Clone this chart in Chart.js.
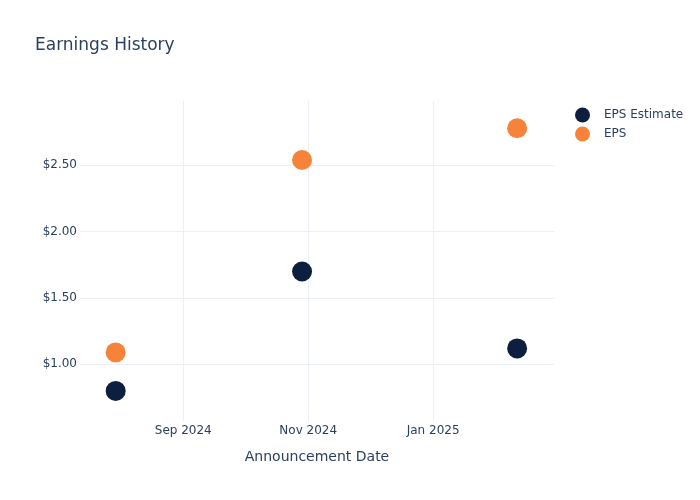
<!DOCTYPE html>
<html>
<head>
<meta charset="utf-8">
<script src="https://cdn.jsdelivr.net/npm/chart.js@4.4.1/dist/chart.umd.min.js"></script>
<style>body{margin:0;background:#fff}</style>
</head>
<body>
<canvas id="chart" width="700" height="500"></canvas>
<script>
// chart values
const announceDates = ["2024-07-30", "2024-10-29", "2025-02-11"];
const epsEstimate = [0.80, 1.70, 1.12];
const epsActual = [1.09, 2.54, 2.78];
const xTickDates = ["2024-09-01", "2024-11-01", "2025-01-01"];
const xTickLabels = ["Sep 2024", "Nov 2024", "Jan 2025"];
const yTickValues = [1.0, 1.5, 2.0, 2.5];
const xRange = ["2024-07-12T14:00:00Z", "2025-03-01T00:00:00Z"];
const yRange = [0.573, 2.985];

const textColor = "#2a3f5f";
const gridColor = "#ebf0f8";
const fontFamily = "'DejaVu Sans', Verdana, sans-serif";

const toTime = s => Date.parse(s.length === 10 ? s + "T00:00:00Z" : s);

// title + legend drawn on top, plotly style
const overlay = {
  id: "overlay",
  afterDraw(chart) {
    const ctx = chart.ctx;
    ctx.save();
    ctx.fillStyle = textColor;
    ctx.font = "17px " + fontFamily;
    ctx.textAlign = "left";
    ctx.textBaseline = "alphabetic";
    ctx.fillText("Earnings History", 35, 50);

    ctx.font = "12px " + fontFamily;
    ctx.textBaseline = "middle";
    chart.data.datasets.forEach((ds, i) => {
      const y = 115 + i * 19;
      ctx.beginPath();
      ctx.arc(582.5, y, 7.5, 0, Math.PI * 2);
      ctx.fillStyle = ds.backgroundColor;
      ctx.fill();
      ctx.fillStyle = textColor;
      ctx.fillText(ds.label, 604, y);
    });
    ctx.restore();
  }
};

new Chart(document.getElementById("chart"), {
  type: "scatter",
  data: {
    datasets: [
      {
        label: "EPS Estimate",
        data: announceDates.map((d, i) => ({ x: toTime(d), y: epsEstimate[i] })),
        backgroundColor: "#0d1f3f",
        borderWidth: 0,
        pointRadius: 10,
        pointHoverRadius: 10
      },
      {
        label: "EPS",
        data: announceDates.map((d, i) => ({ x: toTime(d), y: epsActual[i] })),
        backgroundColor: "#f7833a",
        borderWidth: 0,
        pointRadius: 10,
        pointHoverRadius: 10
      }
    ]
  },
  options: {
    responsive: false,
    animation: false,
    layout: { padding: { left: 0, top: 101, right: 146, bottom: 0 } },
    plugins: {
      legend: { display: false },
      title: { display: false },
      tooltip: { enabled: false }
    },
    scales: {
      x: {
        type: "linear",
        min: toTime(xRange[0]),
        max: toTime(xRange[1]),
        afterBuildTicks: scale => {
          scale.ticks = xTickDates.map(d => ({ value: toTime(d) }));
        },
        afterFit: scale => { scale.height = 79; },
        ticks: {
          callback: (v, i) => xTickLabels[i],
          color: textColor,
          font: { family: fontFamily, size: 12 },
          padding: 3,
          maxRotation: 0,
          autoSkip: false
        },
        grid: { color: gridColor, drawTicks: false },
        border: { display: false },
        title: {
          display: true,
          text: "Announcement Date",
          color: textColor,
          font: { family: fontFamily, size: 14 },
          padding: { top: 0, bottom: 34 }
        }
      },
      y: {
        min: yRange[0],
        max: yRange[1],
        afterBuildTicks: scale => {
          scale.ticks = yTickValues.map(v => ({ value: v }));
        },
        afterFit: scale => { scale.width = 80; },
        ticks: {
          callback: v => "$" + v.toFixed(2),
          color: textColor,
          font: { family: fontFamily, size: 12 },
          padding: 3
        },
        grid: { color: gridColor, drawTicks: false },
        border: { display: false }
      }
    }
  },
  plugins: [overlay]
});
</script>
</body>
</html>
